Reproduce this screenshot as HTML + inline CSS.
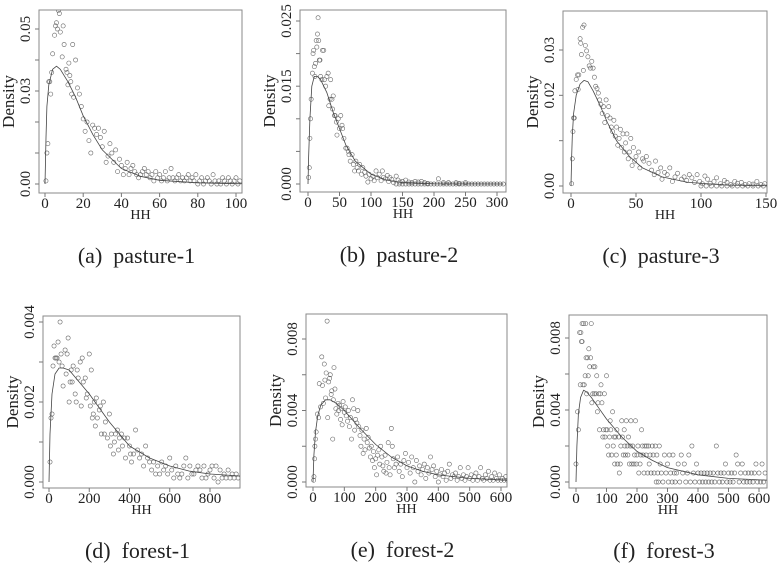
<!DOCTYPE html>
<html><head><meta charset="utf-8">
<style>
html,body{margin:0;padding:0;background:#fff;}
svg{display:block;font-family:"Liberation Serif",serif;}
</style></head>
<body>
<svg id="fig" width="780" height="580" viewBox="0 0 780 580"></svg>
<script>
// ---------- data: panel (a) pasture-1 ----------
const aX=[0.5,1,1.5,2,2.5,3,3.5,4,5,5.5,6,6.5,7,7.5,8,9,9.5,10,11,11.5,12,12.5,13,13.5,14,14.5,15,16,17,18,19,20,21,22,23,24,25,26,27,28,29,30,31,32,33,34,35,36,37,38,39,40,41,42,43,44,45,46,47,48,49,50,51,52,53,54,55,56,57,58,59,60,61,62,63,64,65,66,67,68,69,70,71,72,73,74,75,76,77,78,79,80,81,82,83,84,85,86,87,88,89,90,91,92,93,94,95,96,97,98,99,100,101,102];
const aY=[0.001,0.01,0.013,0.033,0.033,0.029,0.036,0.042,0.048,0.051,0.052,0.05,0.056,0.055,0.049,0.041,0.051,0.045,0.037,0.036,0.032,0.039,0.035,0.033,0.029,0.045,0.028,0.04,0.031,0.029,0.025,0.021,0.017,0.02,0.014,0.01,0.019,0.018,0.016,0.018,0.015,0.012,0.017,0.007,0.009,0.013,0.01,0.007,0.011,0.004,0.008,0.006,0.003,0.005,0.007,0.003,0.005,0.006,0.004,0.003,0.002,0.003,0.004,0.005,0.003,0.004,0.002,0.003,0.001,0.004,0.002,0.003,0.001,0.002,0.004,0.001,0.002,0.005,0.002,0.001,0.002,0.003,0.001,0.002,0.001,0.002,0.003,0.001,0.002,0.001,0.003,0,0.001,0.002,0,0.001,0.002,0.001,0,0.003,0.001,0,0.001,0,0.002,0.001,0,0.002,0.001,0,0.001,0.002,0,0.001,0.002,0.001,0];
const aCurveX=[0,0.5,1,2,4,6,8,12,16,20,25,30,40,50,60,80,100,104];
const aCurveY=[0,0.015,0.025,0.032,0.037,0.038,0.037,0.033,0.028,0.022,0.016,0.011,0.005,0.0025,0.0012,0.0004,0.0001,0.0001];
const aYTicks=[0,0.01,0.02,0.03,0.04,0.05];
const aYLabels=["0.00","","","0.03","","0.05"];
const aXTicks=[0,20,40,60,80,100];
const aXLabels=["0","20","40","60","80","100"];

// ---------- data: panel (b) pasture-2 ----------
const bX=[1,2,3,4,5,7,8,9,10,11,12,13,14,15,16,17,18,19,20,22,23,25,26,28,30,32,33,35,36,38,39,40,42,43,45,46,48,50,52,54,55,57,60,62,64,65,67,70,72,74,76,78,80,82,85,87,90,92,95,97,100,103,105,108,110,113,116,118,120,123,126,128,130,133,136,140,143,146,150,155,160,165,170,175,180,185,190,207,215,223,235,240,250,
140,145,150,155,160,165,170,175,180,185,190,195,200,205,210,215,220,225,230,235,240,245,250,255,260,265,270,275,280,285,290,295,300,305,310];
const bY=[0.001,0.0025,0.007,0.01,0.013,0.017,0.02,0.0205,0.018,0.0165,0.0185,0.022,0.021,0.023,0.0255,0.022,0.019,0.019,0.0165,0.016,0.0205,0.0205,0.016,0.015,0.0165,0.017,0.012,0.013,0.016,0.013,0.0115,0.0135,0.0105,0.0105,0.0095,0.0075,0.01,0.0085,0.0105,0.009,0.0085,0.007,0.0055,0.0055,0.005,0.0045,0.0035,0.0045,0.003,0.002,0.0035,0.0025,0.002,0.003,0.0015,0.0025,0.0018,0.0012,0.0003,0.0015,0.0008,0.0012,0.0005,0.002,0.001,0.0015,0.0005,0.002,0.001,0.0008,0.0013,0.0004,0.001,0.0007,0.0002,0.0012,0.0006,0.0003,0.0004,0.0006,0.0003,0.0002,0.0004,0.0003,0.0004,0.0002,0.0001,0.0008,0.0002,0.0002,0.0002,0.0001,0.0002,
0,0,0,0,0,0,0,0,0,0,0,0,0,0,0,0,0,0,0,0,0,0,0,0,0,0,0,0,0,0,0,0,0,0,0];
const bCurveX=[0,1,3,6,10,15,20,30,40,50,60,75,100,125,150,200,310];
const bCurveY=[0,0.004,0.01,0.015,0.0165,0.0165,0.016,0.014,0.011,0.0085,0.006,0.0035,0.0015,0.0006,0.0002,0.00003,0];
const bYTicks=[0,0.005,0.01,0.015,0.02,0.025];
const bYLabels=["0.000","","","0.015","","0.025"];
const bXTicks=[0,50,100,150,200,250,300];
const bXLabels=["0","50","100","150","200","250","300"];

// ---------- data: panel (c) pasture-3 ----------
const cX=[0.5,1,1.5,2,2.5,3,4,5,5.5,6,7,7.5,8,9,9.5,10,11,12,13,14,15,16,17,18,19,20,21,22,23,24,25,26,27,28,29,30,31,32,33,34,35,36,37,38,39,40,41,42,43,44,45,46,47,48,49,50,52,53,55,56,58,60,62,64,65,67,69,70,72,74,76,78,80,82,85,87,89,91,93,95,97,99,101,103,105,107,110,112,115,118,120,123,126,128,131,134,137,140,143,146,149,
100,104,108,112,116,120,124,128,132,136,140,144,148,152];
const cY=[0.0005,0.006,0.012,0.015,0.015,0.021,0.0235,0.0245,0.0213,0.0245,0.0325,0.0315,0.029,0.035,0.0255,0.0355,0.031,0.0298,0.0285,0.0265,0.026,0.0275,0.026,0.024,0.022,0.0215,0.0205,0.019,0.018,0.016,0.0175,0.014,0.019,0.0155,0.0175,0.015,0.013,0.012,0.0145,0.011,0.013,0.009,0.0105,0.0125,0.0085,0.0115,0.0075,0.0095,0.0115,0.006,0.0075,0.0105,0.0045,0.0085,0.0055,0.0065,0.0075,0.004,0.006,0.0055,0.0065,0.005,0.0035,0.0025,0.0055,0.003,0.004,0.0015,0.003,0.0025,0.004,0.001,0.002,0.0028,0.0015,0.002,0.0012,0.0025,0.0018,0.0008,0.0025,0.001,0.0005,0.0022,0.0015,0.0006,0.001,0.0018,0.0005,0.0012,0.0008,0.0003,0.001,0.0006,0.0008,0.0003,0.0005,0.0004,0.001,0.0003,0.0005,
0,0,0,0,0,0,0,0,0,0,0,0,0,0];
const cCurveX=[0,0.5,1,2,4,7,10,13,17,22,28,35,45,55,70,90,120,155];
const cCurveY=[0,0.006,0.011,0.016,0.02,0.0225,0.0233,0.023,0.021,0.018,0.014,0.01,0.0065,0.004,0.002,0.0008,0.0002,0.00005];
const cYTicks=[0,0.01,0.02,0.03];
const cYLabels=["0.00","","0.02","0.03"];
const cXTicks=[0,50,100,150];
const cXLabels=["0","50","100","150"];

// ---------- data: panel (d) forest-1 ----------
const dX=[5,10,15,20,25,30,35,40,45,50,55,60,65,70,80,85,90,95,100,105,110,115,120,130,135,140,145,155,160,165,170,180,185,190,200,205,210,215,220,225,230,235,240,250,255,260,270,275,280,290,300,305,310,320,325,330,340,345,350,360,365,375,380,390,400,405,410,420,430,440,450,460,470,480,490,500,510,520,530,540,550,560,570,580,590,600,610,620,630,640,650,660,670,680,690,700,710,720,730,740,750,760,770,780,790,800,810,820,830,840,850,860,870,880,890,900,910,920,930,940];
const dY=[0.0005,0.0016,0.0017,0.0029,0.0034,0.0031,0.0031,0.0031,0.0035,0.003,0.004,0.0032,0.0029,0.0024,0.0033,0.0027,0.0032,0.0036,0.002,0.0025,0.0028,0.0025,0.0029,0.0022,0.002,0.0028,0.0026,0.003,0.0019,0.0031,0.0025,0.0026,0.0021,0.0022,0.0032,0.0019,0.0028,0.0016,0.0017,0.002,0.0014,0.0021,0.0016,0.0018,0.0019,0.0012,0.002,0.0012,0.0015,0.0011,0.0017,0.0009,0.0012,0.0007,0.001,0.0012,0.0013,0.0008,0.0011,0.0012,0.0009,0.0011,0.0006,0.0011,0.0009,0.0007,0.0005,0.0007,0.0013,0.0008,0.0006,0.0007,0.0004,0.0009,0.0006,0.0005,0.0003,0.0005,0.0002,0.0004,0.0002,0.0005,0.0003,0.0004,0.0002,0.0006,0.0003,0.0001,0.0004,0.0002,0.0001,0.0002,0.0004,0.0006,0.0001,0.0004,0.0002,0.0002,0.0003,0.0004,0.0003,0.0001,0.0004,0.0001,0.0002,0.0003,0.0004,0.0001,0.0004,0,0.0003,0.0001,0.0002,0.0001,0.0003,0.0001,0.0002,0.0001,0.0002,0.0001];
const dCurveX=[0,5,15,30,50,70,100,150,200,300,400,500,600,700,800,950];
const dCurveY=[0,0.0012,0.0022,0.0027,0.00285,0.00285,0.0028,0.0025,0.0022,0.0015,0.0009,0.0006,0.0004,0.00027,0.0002,0.00015];
const dYTicks=[0,0.001,0.002,0.003,0.004];
const dYLabels=["0.000","","0.002","","0.004"];
const dXTicks=[0,200,400,600,800];
const dXLabels=["0","200","400","600","800"];

// ---------- data: panel (e) forest-2 ----------
const eX=[2,3,5,6,8,10,14,18,20,24,28,30,33,36,38,40,42,45,47,50,53,55,58,60,63,65,67,70,73,76,80,82,85,88,90,93,96,100,103,106,110,113,116,120,123,126,130,133,136,140,143,146,150,153,156,160,163,166,170,173,176,180,183,186,190,193,196,200,203,206,210,213,216,220,223,226,230,233,236,240,243,246,250,253,256,260,265,270,275,280,285,290,295,300,305,310,315,320,325,330,335,340,345,350,355,360,365,370,375,380,385,390,395,400,405,410,415,420,425,430,435,440,445,450,455,460,465,470,475,480,485,490,495,500,505,510,515,520,525,530,535,540,545,550,555,560,565,570,575,580,585,590,595,600,605,610,615,620];
const eY=[0.0001,0.0003,0.0013,0.002,0.0024,0.0028,0.0038,0.0036,0.0055,0.0042,0.007,0.0054,0.0044,0.0066,0.0057,0.0047,0.0061,0.009,0.0036,0.0056,0.0058,0.006,0.0049,0.0051,0.0024,0.0046,0.0064,0.0052,0.0041,0.0038,0.0044,0.004,0.0043,0.0035,0.0041,0.0032,0.0045,0.0039,0.0042,0.0037,0.0034,0.004,0.0031,0.0036,0.0024,0.0046,0.0041,0.0029,0.0035,0.0033,0.004,0.0031,0.0026,0.002,0.0029,0.0016,0.0024,0.0018,0.003,0.0022,0.0025,0.0019,0.0014,0.002,0.0012,0.0017,0.0008,0.0013,0.0004,0.0015,0.0018,0.001,0.002,0.0014,0.0009,0.0006,0.0015,0.0005,0.0011,0.0022,0.0008,0.0004,0.003,0.002,0.0013,0.0008,0.001,0.0014,0.0006,0.001,0.0003,0.0012,0.0016,0.0008,0.0011,0.0005,0.0014,0.0008,0,0.0012,0.0006,0.0009,0.0004,0.0007,0.001,0.0002,0.0008,0.0005,0.0014,0.0007,0.0009,0.0003,0.0006,0,0.0004,0.0007,0.0003,0.0005,0.0001,0.0006,0.001,0.0002,0.0004,0.0003,0.0005,0.0001,0.0003,0.0008,0.0002,0.0004,0.0001,0.0003,0.0008,0.0002,0.0004,0.0001,0.0003,0.0005,0.0001,0.0003,0.0008,0.0002,0.0001,0.0004,0.0002,0.0006,0.0001,0.0003,0.0001,0.0005,0.0002,0.0001,0.0004,0.0001,0.0002,0.0001,0.0003,0.0001];
const eCurveX=[0,3,8,15,25,40,55,75,100,150,200,250,300,350,400,500,620];
const eCurveY=[0,0.0015,0.0028,0.0037,0.0043,0.0046,0.0046,0.0044,0.004,0.003,0.0021,0.0014,0.0009,0.0006,0.0004,0.0002,0.0001];
const eYTicks=[0,0.002,0.004,0.006,0.008];
const eYLabels=["0.000","","0.004","","0.008"];
const eXTicks=[0,100,200,300,400,500,600];
const eXLabels=["0","100","200","300","400","500","600"];

// ---------- data: panel (f) forest-3 ----------
const fX=[0,5,8,12,14,16,18,20,20,23,25,27,30,32,33,35,38,40,42,45,48,50,52,55,57,60,62,65,68,70,72,75,77,80,82,85,88,90,93,95,98,100,102,104,107,110,112,114,117,120,122,125,127,130,132,134,136,140,142,145,147,150,152,155,158,160,162,165,168,170,172,175,178,180,183,186,190,192,195,198,200,203,206,210,212,215,218,220,223,226,230,232,235,238,240,243,246,250,253,256,260,263,265,268,270,273,276,280,285,290,295,300,303,306,310,315,318,322,325,330,335,340,345,350,355,360,365,370,375,380,385,390,395,400,405,410,415,420,425,430,435,440,445,450,455,460,465,470,475,480,485,490,495,500,505,510,515,520,525,530,535,540,545,550,555,560,565,570,575,580,585,590,595,600,605,610,615,620];
const fY=[0.001,0.0039,0.0029,0.0083,0.0054,0.0083,0.0078,0.0078,0.0088,0.0054,0.0088,0.0054,0.0059,0.0088,0.0069,0.0049,0.0069,0.0059,0.0074,0.0064,0.0069,0.0088,0.0044,0.0049,0.0064,0.0049,0.0064,0.0049,0.0059,0.0039,0.0044,0.0049,0.0029,0.0049,0.0054,0.0044,0.0025,0.0029,0.0049,0.0025,0.0029,0.0059,0.0029,0.002,0.0015,0.0025,0.0034,0.0029,0.0015,0.0039,0.002,0.0025,0.001,0.0025,0.0015,0.0029,0.001,0.0025,0.0005,0.001,0.002,0.0034,0.0025,0.0015,0.0029,0.002,0.0015,0.0034,0.002,0.0015,0.0025,0.001,0.002,0.0034,0.001,0.002,0.001,0.0015,0.0034,0.001,0.0015,0.002,0.0005,0.001,0.0015,0.0029,0.002,0.0015,0.0005,0.002,0.0015,0.002,0.0005,0.002,0.001,0.0015,0.0005,0.002,0.0015,0.0005,0.002,0,0.0015,0.0005,0,0.002,0.001,0.0005,0,0.0015,0.0005,0.001,0,0.0015,0.0005,0,0.0015,0.0005,0,0.0005,0.001,0,0.0015,0.0005,0.001,0,0.0005,0.0015,0,0.002,0.0005,0,0.001,0.0005,0,0.0005,0,0.0005,0,0.0005,0,0.0005,0,0.0005,0,0.002,0.0005,0,0.0005,0,0.0005,0.001,0,0.0005,0,0.0005,0,0.0005,0.0015,0.001,0,0.0005,0.001,0,0.0005,0,0.0005,0,0.0005,0,0.0005,0.001,0,0.0005,0,0.001,0,0.0005];
const fCurveX=[0,3,8,15,25,35,50,75,100,150,200,250,300,400,500,630];
const fCurveY=[0,0.002,0.0038,0.0047,0.0051,0.005,0.0047,0.0041,0.0035,0.0025,0.0017,0.0012,0.0008,0.0004,0.0002,0.0001];
const fYTicks=[0,0.002,0.004,0.006,0.008];
const fYLabels=["0.000","","0.004","","0.008"];
const fXTicks=[0,100,200,300,400,500,600];
const fXLabels=["0","100","200","300","400","500","600"];

const NS="http://www.w3.org/2000/svg";
const svg=document.getElementById('fig');
function mk(tag,attrs,parent){const e=document.createElementNS(NS,tag);for(const k in attrs)e.setAttribute(k,attrs[k]);(parent||svg).appendChild(e);return e;}

const panels=[
 {id:'a',cap:'(a)\u2002pasture-1',box:[39,10,242,193],xp:[45,236],xv:[0,100],yp:[184,29],yv:[0,0.05],X:aX,Y:aY,CX:aCurveX,CY:aCurveY,yt:aYTicks,yl:aYLabels,xt:aXTicks,xl:aXLabels},
 {id:'b',cap:'(b)\u2002pasture-2',box:[300,10,506,192],xp:[308,497],xv:[0,300],yp:[184,21],yv:[0,0.025],X:bX,Y:bY,CX:bCurveX,CY:bCurveY,yt:bYTicks,yl:bYLabels,xt:bXTicks,xl:bXLabels},
 {id:'c',cap:'(c)\u2002pasture-3',box:[563,11,767,193],xp:[571,766],xv:[0,150],yp:[186,50],yv:[0,0.03],X:cX,Y:cY,CX:cCurveX,CY:cCurveY,yt:cYTicks,yl:cYLabels,xt:cXTicks,xl:cXLabels},
 {id:'d',cap:'(d)\u2002forest-1',box:[43,316,240,488],xp:[49,210],xv:[0,800],yp:[482,322],yv:[0,0.004],X:dX,Y:dY,CX:dCurveX,CY:dCurveY,yt:dYTicks,yl:dYLabels,xt:dXTicks,xl:dXLabels},
 {id:'e',cap:'(e)\u2002forest-2',box:[306,314,507,487],xp:[313,501],xv:[0,600],yp:[482,339],yv:[0,0.008],X:eX,Y:eY,CX:eCurveX,CY:eCurveY,yt:eYTicks,yl:eYLabels,xt:eXTicks,xl:eXLabels},
 {id:'f',cap:'(f)\u2002forest-3',box:[569,315,767,488],xp:[576,759],xv:[0,600],yp:[482,338],yv:[0,0.008],X:fX,Y:fY,CX:fCurveX,CY:fCurveY,yt:fYTicks,yl:fYLabels,xt:fXTicks,xl:fXLabels}
];

const defs=mk('defs',{});
panels.forEach(p=>{
 const [l,t,r,b]=p.box;
 const sx=v=>p.xp[0]+(v-p.xv[0])*(p.xp[1]-p.xp[0])/(p.xv[1]-p.xv[0]);
 const sy=v=>p.yp[0]+(v-p.yv[0])*(p.yp[1]-p.yp[0])/(p.yv[1]-p.yv[0]);
 const g=mk('g',{});
 
 
 const cp=mk('clipPath',{id:'clip-'+p.id},defs);
 mk('rect',{x:l,y:t,width:r-l,height:b-t},cp);
 const box=mk('rect',{x:l,y:t,width:r-l,height:b-t,fill:'none',stroke:'#8a8a8a','stroke-width':1},g);
 
 
 p.yt.forEach((v,i)=>{
  const y=sy(v);
  const tk=mk('line',{x1:l-4,x2:l,y1:y,y2:y,stroke:'#777','stroke-width':1},g);
  
  
  if(p.yl[i]){
   const tx=mk('text',{x:0,y:0,transform:`translate(${l-9},${y}) rotate(-90)`,'text-anchor':'middle','font-size':15,fill:'#222'},g);
   tx.textContent=p.yl[i];
   
   
  }
 });
 p.xt.forEach((v,i)=>{
  const x=sx(v);
  const tk=mk('line',{x1:x,x2:x,y1:b,y2:b+4,stroke:'#777','stroke-width':1},g);
  
  
  const tx=mk('text',{x:x,y:b+15,'text-anchor':'middle','font-size':15,fill:'#222'},g);
  tx.textContent=p.xl[i];
  
  
 });
 const yt=mk('text',{x:0,y:0,transform:`translate(${l-25},${(t+b)/2}) rotate(-90)`,'text-anchor':'middle','font-size':17,fill:'#222'},g);
 yt.textContent='Density';
 
 
 const xt=mk('text',{x:(l+r)/2,y:b+26,'text-anchor':'middle','font-size':14,fill:'#222'},g);
 xt.textContent='HH';
 
 
 const cap=mk('text',{x:(l+r)/2-4,y:b+70,'text-anchor':'middle','font-size':22,fill:'#222'},g);
 cap.textContent=p.cap;
 
 
 const dg=mk('g',{'clip-path':`url(#clip-${p.id})`},g);
 
 
 p.X.forEach((xv,i)=>{
  const c=mk('circle',{cx:sx(xv),cy:sy(p.Y[i]),r:2.1,fill:'none',stroke:'#666','stroke-width':0.6},dg);
  
  
 });
 const pts=p.CX.map((xv,i)=>sx(xv).toFixed(1)+','+sy(p.CY[i]).toFixed(1)).join(' ');
 const pl=mk('polyline',{points:pts,fill:'none',stroke:'#444','stroke-width':0.8,'stroke-linejoin':'round'},dg);
 
 
});
</script>
</body></html>
